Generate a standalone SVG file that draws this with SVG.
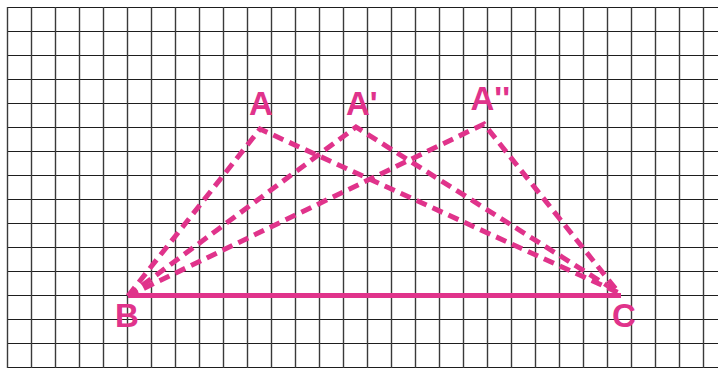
<svg xmlns="http://www.w3.org/2000/svg" width="718" height="369" viewBox="0 0 718 369">
<defs>
<style>
.h{stroke:#1e1e1e;stroke-width:1.2}
.v{stroke:#3a3a3a;stroke-width:1.4}
.dash{fill:none;stroke:#e0338b;stroke-width:5;stroke-dasharray:11 6.5;stroke-linejoin:miter}
.base{stroke:#e0338b;stroke-width:5}
.lbl{font-family:"Liberation Sans",Arial,sans-serif;font-weight:bold;font-size:33px;fill:#e0338b}
</style>
</defs>
<rect width="718" height="369" fill="#fff"/>
<g id="grid">
<path class="h" d="M7 7.5H718M7 31.5H718M7 55.5H718M7 79.5H718M7 103.5H718M7 127.5H718M7 151.5H718M7 175.5H718M7 199.5H718M7 223.5H718M7 247.5H718M7 271.5H718M7 295.5H718M7 319.5H718M7 343.5H718M7 367.5H718"/>
<path class="v" d="M7.5 7V368M31.5 7V368M55.5 7V368M79.5 7V368M103.5 7V368M127.5 7V368M151.5 7V368M175.5 7V368M199.5 7V368M223.5 7V368M247.5 7V368M271.5 7V368M295.5 7V368M319.5 7V368M343.5 7V368M367.5 7V368M391.5 7V368M415.5 7V368M439.5 7V368M463.5 7V368M487.5 7V368M511.5 7V368M535.5 7V368M559.5 7V368M583.5 7V368M607.5 7V368M631.5 7V368M655.5 7V368M679.5 7V368M703.5 7V368"/>
</g>
<g id="connectors">
<polyline id="tri-A" class="dash" points="128,296 260,129 619,293"/>
<polyline id="tri-A1" class="dash" points="128,296 356,127 619,293"/>
<polyline id="tri-A2" class="dash" points="128,296 484,124 619,293"/>
<line id="BC" class="base" x1="128" y1="295.5" x2="621" y2="295.5"/>
</g>
<g id="node-A"><text class="lbl" x="249" y="115">A</text></g>
<g id="node-A1"><text class="lbl" x="346" y="114.5">A'</text></g>
<g id="node-A2"><text class="lbl" x="470.5" y="109.5">A''</text></g>
<g id="node-B"><text class="lbl" x="115" y="327">B</text></g>
<g id="node-C"><text class="lbl" x="612" y="327">C</text></g>
</svg>
